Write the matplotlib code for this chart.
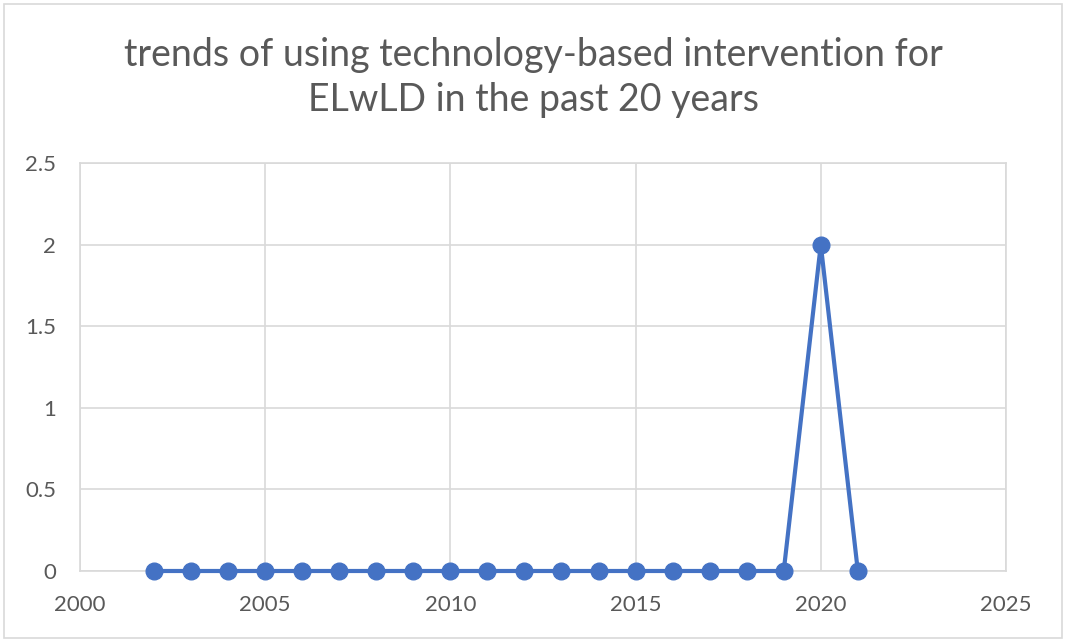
import matplotlib.pyplot as plt
from matplotlib.patches import Rectangle

years = [2002, 2003, 2004, 2005, 2006, 2007, 2008, 2009, 2010, 2011,
         2012, 2013, 2014, 2015, 2016, 2017, 2018, 2019, 2020, 2021]
counts = [0, 0, 0, 0, 0, 0, 0, 0, 0, 0,
          0, 0, 0, 0, 0, 0, 0, 0, 2, 0]
x_ticks = [2000, 2005, 2010, 2015, 2020, 2025]
y_ticks = [0, 0.5, 1, 1.5, 2, 2.5]
title = 'trends of using technology-based intervention for\nELwLD in the past 20 years'

plt.rcParams['font.family'] = ['Lato', 'DejaVu Sans']
grid_col = '#d9d9d9'
text_col = '#595959'

fig = plt.figure(figsize=(10.66, 6.42), dpi=100)
ax = fig.add_axes([0.075, 0.1106, 0.8687, 0.6355])

ax.plot(years, counts, color='#4472c4', linewidth=3, marker='o',
        markersize=12, zorder=3, clip_on=False)

ax.set_xlim(2000, 2025)
ax.set_ylim(0, 2.5)
ax.set_xticks(x_ticks)
ax.set_yticks(y_ticks)
ax.set_yticklabels(['0', '0.5', '1', '1.5', '2', '2.5'])
ax.grid(True, color=grid_col, linewidth=1.2)
ax.set_axisbelow(True)
for s in ax.spines.values():
    s.set_color(grid_col)
    s.set_linewidth(1.2)
ax.tick_params(length=0, labelsize=16, labelcolor=text_col, pad=17)

fig.text(0.5, 0.879, title, ha='center', va='center', fontsize=27,
         color=text_col, linespacing=1.32)

# thin frame around the whole chart
fig.patches.append(Rectangle((0.004, 0.006), 0.992, 0.988,
                             transform=fig.transFigure, fill=False,
                             edgecolor='#d9d9d9', linewidth=1.2))

fig.savefig('out.png', dpi=100)
